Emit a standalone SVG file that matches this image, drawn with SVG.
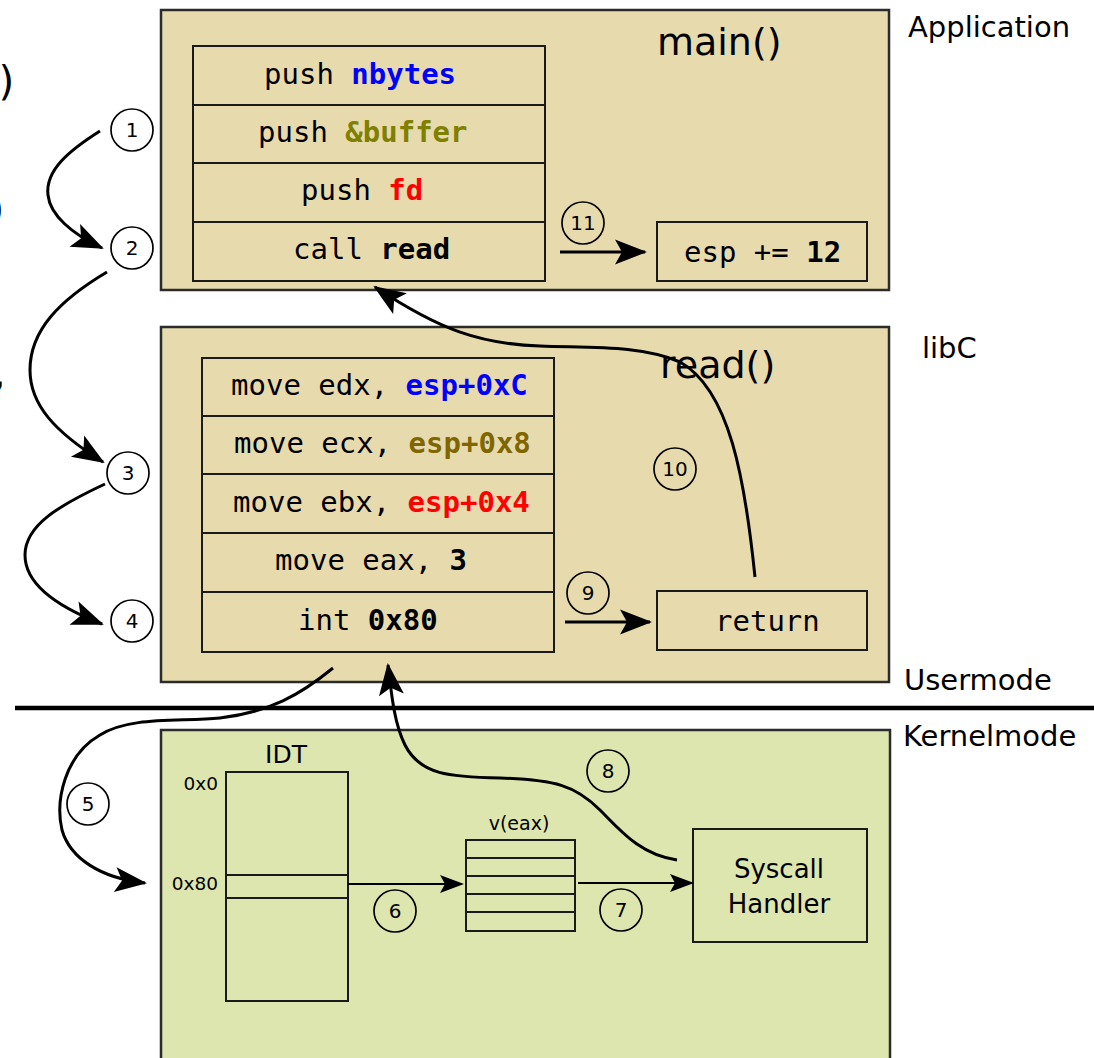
<svg xmlns="http://www.w3.org/2000/svg" width="1094" height="1058" viewBox="0 0 1094 1058">
<style>
.app{fill:#e7dbae;stroke:#2b2b2b;stroke-width:2.5}
.kern{fill:#dde6ae;stroke:#2b2b2b;stroke-width:2.5}
.cell{fill:none;stroke:#1a1a1a;stroke-width:2}
.mono{font-family:"DejaVu Sans Mono","Liberation Mono",monospace;font-size:29px;fill:#000}
.b{font-weight:bold}
.sans{font-family:"DejaVu Sans","Liberation Sans",sans-serif;fill:#000}
.lbl{font-size:29px}
.num{font-family:"DejaVu Sans","Liberation Sans",sans-serif;font-size:20px;text-anchor:middle;fill:#000}
.circ{fill:none;stroke:#000;stroke-width:1.7}
.con{fill:none;stroke:#000;stroke-width:3}
.thin{fill:none;stroke:#000;stroke-width:2}
</style>
<defs>
<marker id="big" markerUnits="userSpaceOnUse" markerWidth="40" markerHeight="30" refX="30" refY="0" viewBox="-2 -15 36 30" orient="auto" overflow="visible">
<path d="M0,-12.5 L32,0 L0,12.5 L7,0 Z" fill="#000"/>
</marker>
<marker id="small" markerUnits="userSpaceOnUse" markerWidth="30" markerHeight="24" refX="22" refY="0" viewBox="-2 -12 28 24" orient="auto" overflow="visible">
<path d="M0,-9 L24,0 L0,9 L5,0 Z" fill="#000"/>
</marker>
</defs>

<!-- cropped fragments on left edge -->
<g id="edge-fragments">
<text class="mono" x="-5" y="95" style="font-size:40px">)</text>
<text class="mono" x="-15" y="223" style="font-size:40px">)</text>
<text class="mono b" x="-12" y="388" style="font-size:36px">,</text>
</g>

<!-- Application -->
<g id="application">
<rect class="app" x="161" y="10" width="728" height="280"/>
<text class="sans lbl" x="908" y="37">Application</text>
<text class="sans" x="657" y="55" style="font-size:38px">main()</text>
</g>
<g id="main-stack">
<rect class="cell" x="193" y="46" width="352" height="235"/>
<line class="cell" x1="193" y1="105" x2="545" y2="105"/>
<line class="cell" x1="193" y1="163" x2="545" y2="163"/>
<line class="cell" x1="193" y1="222" x2="545" y2="222"/>
<text class="mono" x="264" y="84">push <tspan class="b" fill="#0000ff">nbytes</tspan></text>
<text class="mono" x="258" y="142">push <tspan class="b" fill="#7f7f00">&amp;buffer</tspan></text>
<text class="mono" x="301" y="200">push <tspan class="b" fill="#ff0000">fd</tspan></text>
<text class="mono" x="293" y="259">call <tspan class="b">read</tspan></text>
</g>
<g id="esp-box">
<rect class="cell" x="657" y="222" width="210" height="59"/>
<text class="mono" x="684" y="262">esp += <tspan class="b">12</tspan></text>
</g>

<!-- libC -->
<g id="libc">
<rect class="app" x="161" y="327" width="728" height="355"/>
<text class="sans lbl" x="922" y="358">libC</text>
<text class="sans" x="660" y="378" style="font-size:38px">read()</text>
</g>
<g id="read-stack">
<rect class="cell" x="202" y="358" width="352" height="294"/>
<line class="cell" x1="202" y1="416" x2="554" y2="416"/>
<line class="cell" x1="202" y1="474" x2="554" y2="474"/>
<line class="cell" x1="202" y1="533" x2="554" y2="533"/>
<line class="cell" x1="202" y1="592" x2="554" y2="592"/>
<text class="mono" x="231" y="395">move edx, <tspan class="b" fill="#0000ff">esp+0xC</tspan></text>
<text class="mono" x="234" y="453">move ecx, <tspan class="b" fill="#806600">esp+0x8</tspan></text>
<text class="mono" x="233" y="512">move ebx, <tspan class="b" fill="#ff0000">esp+0x4</tspan></text>
<text class="mono" x="275" y="570">move eax, <tspan class="b">3</tspan></text>
<text class="mono" x="298" y="630">int <tspan class="b">0x80</tspan></text>
</g>
<g id="return-box">
<rect class="cell" x="657" y="591" width="210" height="59"/>
<text class="mono" x="715" y="631">return</text>
</g>

<!-- mode separator -->
<g id="separator">
<line x1="15" y1="708" x2="1094" y2="708" stroke="#000" stroke-width="4.5"/>
<text class="sans lbl" x="904" y="690">Usermode</text>
<text class="sans lbl" x="903" y="746">Kernelmode</text>
</g>

<!-- Kernel -->
<g id="kernel">
<rect class="kern" x="161" y="730" width="729" height="340"/>
</g>
<g id="idt">
<text class="sans" x="286" y="763" text-anchor="middle" style="font-size:25px">IDT</text>
<rect class="cell" x="226" y="772" width="122" height="229"/>
<rect class="cell" x="226" y="875" width="122" height="23"/>
<text class="sans" x="218" y="790" text-anchor="end" style="font-size:18.5px">0x0</text>
<text class="sans" x="218" y="890" text-anchor="end" style="font-size:18.5px">0x80</text>
</g>
<g id="veax">
<text class="sans" x="519" y="830" text-anchor="middle" style="font-size:19px">v(eax)</text>
<rect class="cell" x="466" y="840" width="109" height="91"/>
<line class="cell" x1="466" y1="858" x2="575" y2="858"/>
<line class="cell" x1="466" y1="876" x2="575" y2="876"/>
<line class="cell" x1="466" y1="894" x2="575" y2="894"/>
<line class="cell" x1="466" y1="912" x2="575" y2="912"/>
</g>
<g id="syscall-handler">
<rect class="cell" x="693" y="829" width="174" height="113"/>
<text class="sans" x="779" y="878" text-anchor="middle" style="font-size:26px">Syscall</text>
<text class="sans" x="779" y="913" text-anchor="middle" style="font-size:26px">Handler</text>
</g>

<!-- connectors -->
<g id="connectors">
<path class="con" d="M100,131 C70,150 45,170 48,195 C50,215 72,234 102,248" marker-end="url(#big)"/>
<path class="con" d="M107,272 C60,300 30,330 30,370 C30,405 55,432 103,462" marker-end="url(#big)"/>
<path class="con" d="M105,484 C60,505 25,525 25,555 C25,585 58,607 102,624" marker-end="url(#big)"/>
<path class="con" d="M333,668 C300,695 270,712 220,718 C180,722 130,716 100,735 C65,755 55,800 62,830 C70,858 100,878 145,883" marker-end="url(#big)"/>
<line class="thin" x1="348" y1="884" x2="462" y2="884" marker-end="url(#small)"/>
<line class="thin" x1="578" y1="883" x2="692" y2="883" marker-end="url(#small)"/>
<path class="con" d="M677,860 C640,855 620,830 600,810 C575,785 555,780 500,778 C450,777 420,775 405,745 C395,725 392,700 388,665" marker-end="url(#big)"/>
<line class="con" x1="565" y1="622" x2="650" y2="622" marker-end="url(#big)"/>
<path class="con" d="M755,577 C745,480 730,390 680,362 C640,345 590,348 540,346 C480,344 440,330 375,287" marker-end="url(#big)"/>
<line class="con" x1="560" y1="252" x2="645" y2="252" marker-end="url(#big)"/>
</g>

<!-- step numbers -->
<g id="steps">
<circle class="circ" cx="132" cy="130" r="21"/><text class="num" x="132" y="137">1</text>
<circle class="circ" cx="132" cy="248" r="21"/><text class="num" x="132" y="255">2</text>
<circle class="circ" cx="128" cy="473" r="21"/><text class="num" x="128" y="480">3</text>
<circle class="circ" cx="132" cy="621" r="21"/><text class="num" x="132" y="628">4</text>
<circle class="circ" cx="88" cy="804" r="21"/><text class="num" x="88" y="811">5</text>
<circle class="circ" cx="395" cy="911" r="21"/><text class="num" x="395" y="918">6</text>
<circle class="circ" cx="621" cy="910" r="21"/><text class="num" x="621" y="917">7</text>
<circle class="circ" cx="608" cy="771" r="21"/><text class="num" x="608" y="778">8</text>
<circle class="circ" cx="588" cy="593" r="21"/><text class="num" x="588" y="600">9</text>
<circle class="circ" cx="675" cy="469" r="21"/><text class="num" x="675" y="476">10</text>
<circle class="circ" cx="583" cy="223" r="21"/><text class="num" x="583" y="230">11</text>
</g>
</svg>
